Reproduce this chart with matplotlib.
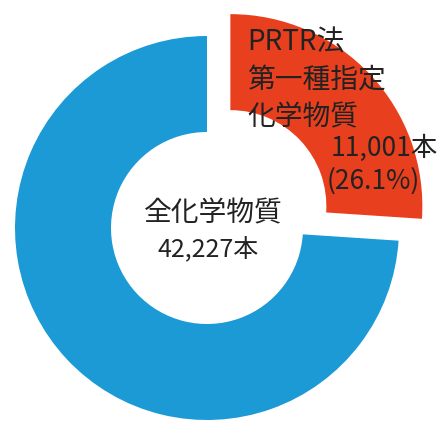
import matplotlib
matplotlib.use("Agg")
import matplotlib.pyplot as plt

plt.rcParams['font.family'] = ['Noto Sans CJK JP', 'DejaVu Sans']

# data
total_count = 42227
prtr_count = 11001
prtr_share = "26.1%"
labels = ["PRTR法\n第一種指定\n化学物質", "全化学物質"]
values = [prtr_count, total_count - prtr_count]
colors = ["#e8401e", "#1b9ad6"]

W, H = 442, 423
fig = plt.figure(figsize=(W / 100, H / 100), dpi=100)
ax = fig.add_axes([0, 0, 1, 1])

# donut, red slice pulled out toward upper right
ax.pie(values, center=(207, H - 228), radius=192, startangle=90, counterclock=False,
       explode=[32, 0], colors=colors,
       wedgeprops=dict(width=96, linewidth=0))
ax.set_xlim(0, W)
ax.set_ylim(0, H)
ax.set_aspect('equal')
ax.axis('off')

txt = "#222222"
# centre label
ax.text(213, H - 213, labels[1], ha='center', va='center', fontsize=20, color=txt)
ax.text(208, H - 250, f"{total_count:,}本", ha='center', va='center', fontsize=18, color=txt)

# red slice label
for i, line in enumerate(labels[0].split("\n")):
    ax.text(247, H - [42, 80, 117][i], line, ha='left', va='center', fontsize=20, color=txt)
ax.text(438, H - 148, f"{prtr_count:,}本", ha='right', va='center', fontsize=19, color=txt)
ax.text(327, H - 181, f"({prtr_share})", ha='left', va='center', fontsize=19, color=txt)

fig.savefig("out.png", dpi=100)
